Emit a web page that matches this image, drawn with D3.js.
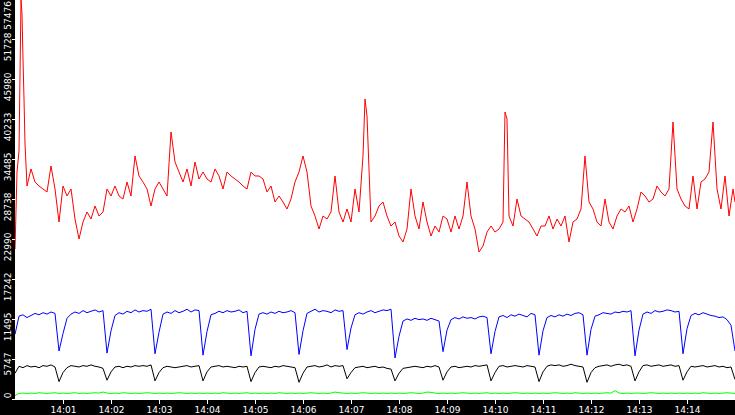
<!DOCTYPE html>
<html>
<head>
<meta charset="utf-8">
<script src="https://cdn.jsdelivr.net/npm/d3@7"></script>
<style>
  body { margin: 0; background: #fff; }
  svg text { font-family: "DejaVu Sans", sans-serif; font-size: 9px; fill: #fff; }
</style>
</head>
<body>
<div id="chart"></div>
<script>
// y tick labels (left axis) and x tick labels (bottom axis)
var yTicks = [0, 5747, 11495, 17242, 22990, 28738, 34485, 40233, 45980, 51728, 57476];
var xTickLabels = ["14:01","14:02","14:03","14:04","14:05","14:06","14:07","14:08","14:09","14:10","14:11","14:12","14:13","14:14"];

// red series: [seconds since 14:00, value]
var redPoints = [
  [0,21553],[2.5,32618],[5,35635],[7.5,57476],[8.75,55320],[10,48854],[11.25,43107],[12.5,36641],[15,30606],
  [20,33049],[25,31181],[30,30606],[35,30175],[40,29744],[45,33480],[50,30175],[55,25433],[60,30606],[65,29169],
  [70,30175],[75,25864],[80,22990],[85,25433],[90,26870],[95,25864],[100,27732],[105,26295],[110,26870],[115,30175],
  [120,29169],[125,30606],[130,29169],[135,28738],[140,31181],[145,29169],[150,34917],[155,32043],[160,31181],[165,30175],
  [170,27732],[175,30175],[180,31181],[185,30175],[190,29169],[195,38365],[200,34055],[205,32618],[210,31181],[215,33049],
  [220,30606],[225,34055],[230,31612],[235,32618],[240,31612],[245,31181],[250,33049],[255,32043],[260,30175],[265,32618],
  [270,32043],[275,31612],[280,31181],[285,30606],[290,30175],[295,32618],[300,32043],
  [305,32043],[310,31612],[315,29744],[320,30606],[325,28307],[330,29169],[335,28307],[340,27301],[345,28738],[350,31181],
  [355,32618],[360,34917],[365,32618],[370,27732],[375,26295],[380,24427],[385,26295],[390,25864],[395,26870],[400,32043],
  [405,26870],[410,25433],[415,27301],[420,25433],[425,30175],[430,26870],[435,34917],[437.5,43107],[440,40664],[445,25433],
  [450,26295],[455,27732],[460,28307],[465,26295],[470,24858],[475,25433],[480,23421],[485,22559],[490,24427],[495,30175],
  [500,26295],[505,24427],[510,28307],[515,25433],[520,23421],[525,24858],[530,23996],[535,26295],[540,25864],[545,23996],
  [550,26295],[555,24427],[560,26295],[565,31181],[570,26295],[575,24427],[580,21122],[585,21984],[590,23996],[595,24858],
  [600,23996],[605,24427],[610,25433],[612.5,41239],[615,40233],[617.5,26295],[622.5,24858],[627.5,28738],
  [632.5,26295],[637.5,25864],[642.5,25433],[647.5,24427],[652.5,23421],[657.5,24858],[662.5,24858],[667.5,26295],
  [672.5,24427],[677.5,25864],[682.5,24858],[687.5,26295],[692.5,22559],[697.5,25433],[702.5,25864],[707.5,27301],
  [712.5,34917],[717.5,28307],[722.5,27301],[727.5,25433],[732.5,24858],[737.5,28738],[742.5,25433],[747.5,24427],
  [752.5,26295],[757.5,27301],[762.5,26870],[767.5,27732],[772.5,25433],[777.5,27301],[782.5,29744],[787.5,29169],
  [792.5,28307],[797.5,28738],[802.5,30606],[807.5,29744],[812.5,29169],[817.5,30175],[822.5,39802],[827.5,30175],
  [832.5,28738],[837.5,27732],[842.5,27301],[847.5,32043],[852.5,27301],[857.5,31181],[862.5,31612],[867.5,32618],
  [872.5,39802],[877.5,30175],[882.5,27301],[887.5,32043],[892.5,26295],[897.5,30175],[900,28307]
];

// blue, black, green series: one value every 5 seconds from 14:00 to 14:15
var blueValues = [
  9300,11900,12100,11700,12000,12300,12100,12400,12200,12500,12300,6900,
  9400,11600,12200,12500,12300,12700,12400,12600,12800,12500,12700,6600,
  9800,12000,12400,12200,12600,12400,12800,12500,12700,12600,12900,6500,
  9600,12200,12500,12300,12700,12400,12600,12900,12500,12800,12700,6300,
  9700,12100,12300,12600,12400,12700,12500,12600,12800,12400,12600,6200,
  10000,12200,12400,12200,12500,12300,12600,12400,12500,12700,12400,6400,
  9800,12300,12600,12900,12500,12700,12600,12400,12800,12600,12700,7100,
  10200,12100,12400,12200,12500,12700,12400,12600,12800,12700,12900,5900,
  9000,11200,11500,11300,11600,11400,11500,11300,11600,11400,11200,6800,
  9900,11400,11700,11500,11800,11600,11700,11500,11800,11900,11700,6500,
  9700,11800,12000,11700,12100,11900,12200,12000,11800,12300,12100,6300,
  9800,11700,12000,11800,12100,11900,12200,12000,12300,12400,12100,6300,
  10000,11900,12100,12400,12300,12200,12500,12400,12600,12500,12700,6200,
  9900,12200,12500,12300,12700,12500,12600,12800,12700,12500,12600,6500,
  10100,12000,12300,12100,12400,12200,12000,11900,11700,11800,11400,10600,
  6900
];
var blackValues = [
  3700,4700,4500,4800,4600,4700,4500,4800,4700,4900,4600,2500,
  3800,4500,4800,4700,4600,4800,4700,4900,4700,4600,4400,2700,
  3900,4600,4700,4500,4700,4600,4800,4700,4800,4700,4900,2600,
  3800,4500,4700,4600,4500,4600,4700,4800,4600,4700,4800,2600,
  3900,4600,4700,4800,4600,4700,4600,4500,4700,4600,4700,2500,
  3800,4600,4700,4600,4500,4700,4600,4800,4700,4600,4500,2400,
  3700,4600,4700,4800,4600,4700,4900,4600,4800,4700,4800,2900,
  3800,4500,4600,4700,4500,4600,4700,4500,4600,4400,4300,2600,
  3700,4400,4500,4600,4700,4600,4500,4700,4600,4800,4600,2700,
  3900,4600,4700,4500,4600,4700,4600,4800,4700,4800,4900,2600,
  3800,4700,4800,4600,4700,4800,4700,4600,4800,4700,4600,2500,
  3900,4700,4900,4800,4900,4700,4800,5000,4800,4700,4600,2400,
  3800,4500,4700,4800,4900,4700,4900,5000,4800,4900,4700,2600,
  3900,4800,4900,4700,4800,4900,4700,4800,4900,4700,4800,2700,
  3900,4700,4600,4700,4800,4600,4700,4800,4600,4700,4500,4600,
  2800
];
var greenValues = [
  500,800,850,800,850,800,900,850,800,850,900,800,
  850,800,850,900,800,850,800,850,900,850,1000,850,
  800,850,800,900,850,800,850,800,850,900,850,800,
  850,800,850,800,850,900,850,800,850,800,850,800,
  850,800,850,800,900,850,800,850,800,850,900,800,
  850,800,850,800,850,800,900,850,800,850,800,850,
  800,850,900,850,800,850,800,850,1000,900,850,800,
  850,800,850,900,850,800,850,800,850,800,850,800,
  850,800,850,900,850,800,850,1000,950,850,800,850,
  800,850,800,850,900,850,800,850,800,850,900,800,
  850,800,850,800,850,900,850,800,850,800,850,800,
  850,800,850,900,850,800,850,800,900,850,800,850,
  800,850,800,850,900,850,1200,850,800,850,800,850,
  850,800,850,900,850,800,850,800,850,800,850,800,
  850,800,850,800,900,850,800,850,800,850,900,850,
  800
];

var width = 735, height = 415;
var plotLeft = 15, plotBottom = 400;

var svg = d3.select("#chart").append("svg")
    .attr("width", width)
    .attr("height", height);

var x = d3.scaleLinear().domain([0, 900]).range([plotLeft, width]);
var y = d3.scaleLinear().domain([0, 57476]).range([plotBottom - 1, -1]);

// black axis bands
svg.append("rect").attr("x", 0).attr("y", 0).attr("width", plotLeft).attr("height", height).attr("fill", "#000");
svg.append("rect").attr("x", 0).attr("y", plotBottom).attr("width", width).attr("height", height - plotBottom).attr("fill", "#000");

var plot = svg.append("g");
plot.append("clipPath").attr("id", "clip")
  .append("rect").attr("x", plotLeft).attr("y", 0).attr("width", width - plotLeft).attr("height", plotBottom);

var line = d3.line().x(function(d){ return x(d[0]); }).y(function(d){ return y(d[1]); });
function toPoints(values){
    return values.map(function(v, i){ return [i * 5, v]; });
}

var series = [
    { data: toPoints(greenValues), color: "#00ff00" },
    { data: toPoints(blackValues), color: "#000000" },
    { data: toPoints(blueValues), color: "#0000ff" },
    { data: redPoints, color: "#ff0000" }
];
series.forEach(function(s){
    plot.append("path")
        .attr("clip-path", "url(#clip)")
        .attr("d", line(s.data))
        .attr("fill", "none")
        .attr("stroke", s.color)
        .attr("stroke-width", 1);
});

// y axis ticks and rotated labels
yTicks.forEach(function(t){
    var ty = Math.round(y(t)) + 0.5;
    svg.append("line").attr("x1", 12).attr("x2", 15).attr("y1", ty).attr("y2", ty)
        .attr("stroke", "#fff");
    var ly = Math.max(ty - 7, 1);
    svg.append("text")
        .attr("transform", "translate(11," + ly + ") rotate(-90)")
        .attr("text-anchor", "end")
        .text(t);
});

// x axis ticks and labels
xTickLabels.forEach(function(lbl, i){
    var tx = Math.round(x((i + 1) * 60)) + 0.5;
    svg.append("line").attr("x1", tx).attr("x2", tx).attr("y1", plotBottom).attr("y2", plotBottom + 4)
        .attr("stroke", "#fff");
    svg.append("text")
        .attr("x", tx).attr("y", 413)
        .attr("text-anchor", "middle")
        .text(lbl);
});
</script>
</body>
</html>
